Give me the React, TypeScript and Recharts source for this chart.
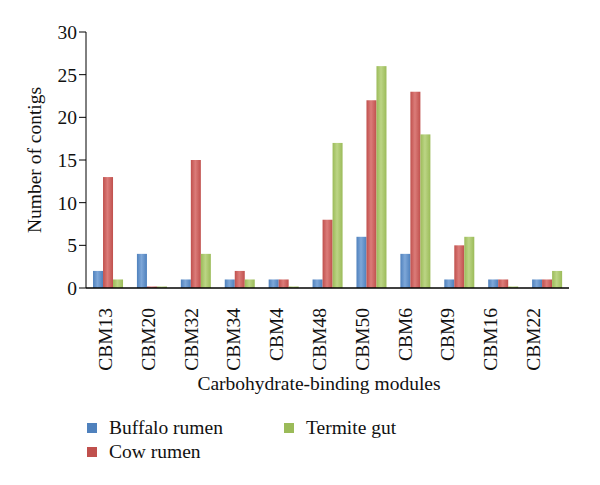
import { BarChart, Bar, XAxis, YAxis, Label } from 'recharts'

const categories = ['CBM13', 'CBM20', 'CBM32', 'CBM34', 'CBM4', 'CBM48', 'CBM50', 'CBM6', 'CBM9', 'CBM16', 'CBM22']
const buffalo = [2, 4, 1, 1, 1, 1, 6, 4, 1, 1, 1]
const cow = [13, 0, 15, 2, 1, 8, 22, 23, 5, 1, 1]
const termite = [1, 0, 4, 1, 0, 17, 26, 18, 6, 0, 2]
const yTicks = [0, 5, 10, 15, 20, 25, 30]

const data = categories.map((name, i) => ({
	name,
	buffalo: buffalo[i],
	cow: cow[i],
	termite: termite[i],
}))

const series = [
	{ key: 'buffalo', label: 'Buffalo rumen', color: '#4F81BD', light: '#7EA7D8' },
	{ key: 'cow', label: 'Cow rumen', color: '#C0504D', light: '#DB7C79' },
	{ key: 'termite', label: 'Termite gut', color: '#9BBB59', light: '#BCD585' },
]

const font = '"Liberation Serif", "DejaVu Serif", serif'

// labels sit a little left of the bars (the original is drawn in perspective)
const CategoryTick = (props: any) => {
	const { x, y, payload, index } = props
	const shift = -3 - 1.1 * index
	return (
		<text
			transform={`translate(${x + shift + 7},${y + 12}) rotate(-90)`}
			textAnchor="end"
			fontFamily={font}
			fontSize={19.5}
			fill="#111"
		>
			{payload.value}
		</text>
	)
}

// zero values still show as a thin sliver
const BarShape = (props: any) => {
	const { x, y, width, height, fill } = props
	if (!height || height < 1.5) {
		return <rect x={x} y={y + (height || 0) - 1.5} width={width} height={1.5} fill={fill} />
	}
	return <rect x={x} y={y} width={width} height={height} fill={fill} />
}

const legendPos = [
	{ x: 87, y: 423 },
	{ x: 87, y: 447 },
	{ x: 284, y: 423 },
]

export default function App() {
	return (
		<div style={{ position: 'absolute', left: 0, top: 0, width: 600, height: 485, background: '#fff' }}>
			<BarChart
				width={600}
				height={485}
				data={data}
				margin={{ top: 32, right: 31, left: 26, bottom: 107 }}
				barCategoryGap="16%"
				barGap={0}
			>
				<defs>
					{series.map((s) => (
						<linearGradient key={s.key} id={`grad-${s.key}`} x1="0" y1="0" x2="1" y2="0">
							<stop offset="0%" stopColor={s.color} />
							<stop offset="45%" stopColor={s.light} />
							<stop offset="100%" stopColor={s.color} />
						</linearGradient>
					))}
				</defs>
				<XAxis
					dataKey="name"
					height={90}
					interval={0}
					tick={<CategoryTick />}
					tickLine={false}
					axisLine={{ stroke: '#000', strokeWidth: 1.5 }}
				/>
				<YAxis
					width={60}
					domain={[0, 30]}
					ticks={yTicks}
					tickSize={7}
					tickLine={{ stroke: '#000' }}
					axisLine={{ stroke: '#000', strokeWidth: 1 }}
					tick={{ fontFamily: font, fontSize: 19.5, fill: '#111' }}
				>
					<Label
						value="Number of contigs"
						angle={-90}
						position="insideLeft"
						offset={8}
						style={{ fontFamily: font, fontSize: 19.5, fill: '#111', textAnchor: 'middle' }}
					/>
				</YAxis>
				{series.map((s) => (
					<Bar
						key={s.key}
						dataKey={s.key}
						fill={`url(#grad-${s.key})`}
						shape={<BarShape />}
						isAnimationActive={false}
					/>
				))}
				<text x={319} y={390} textAnchor="middle" fontFamily={font} fontSize={19.5} fill="#111">
					Carbohydrate-binding modules
				</text>
				{series.map((s, i) => (
					<g key={s.key}>
						<rect x={legendPos[i].x} y={legendPos[i].y} width={10} height={10} fill={s.color} />
						<text x={legendPos[i].x + 22} y={legendPos[i].y + 11} fontFamily={font} fontSize={19.5} fill="#111">
							{s.label}
						</text>
					</g>
				))}
			</BarChart>
		</div>
	)
}
